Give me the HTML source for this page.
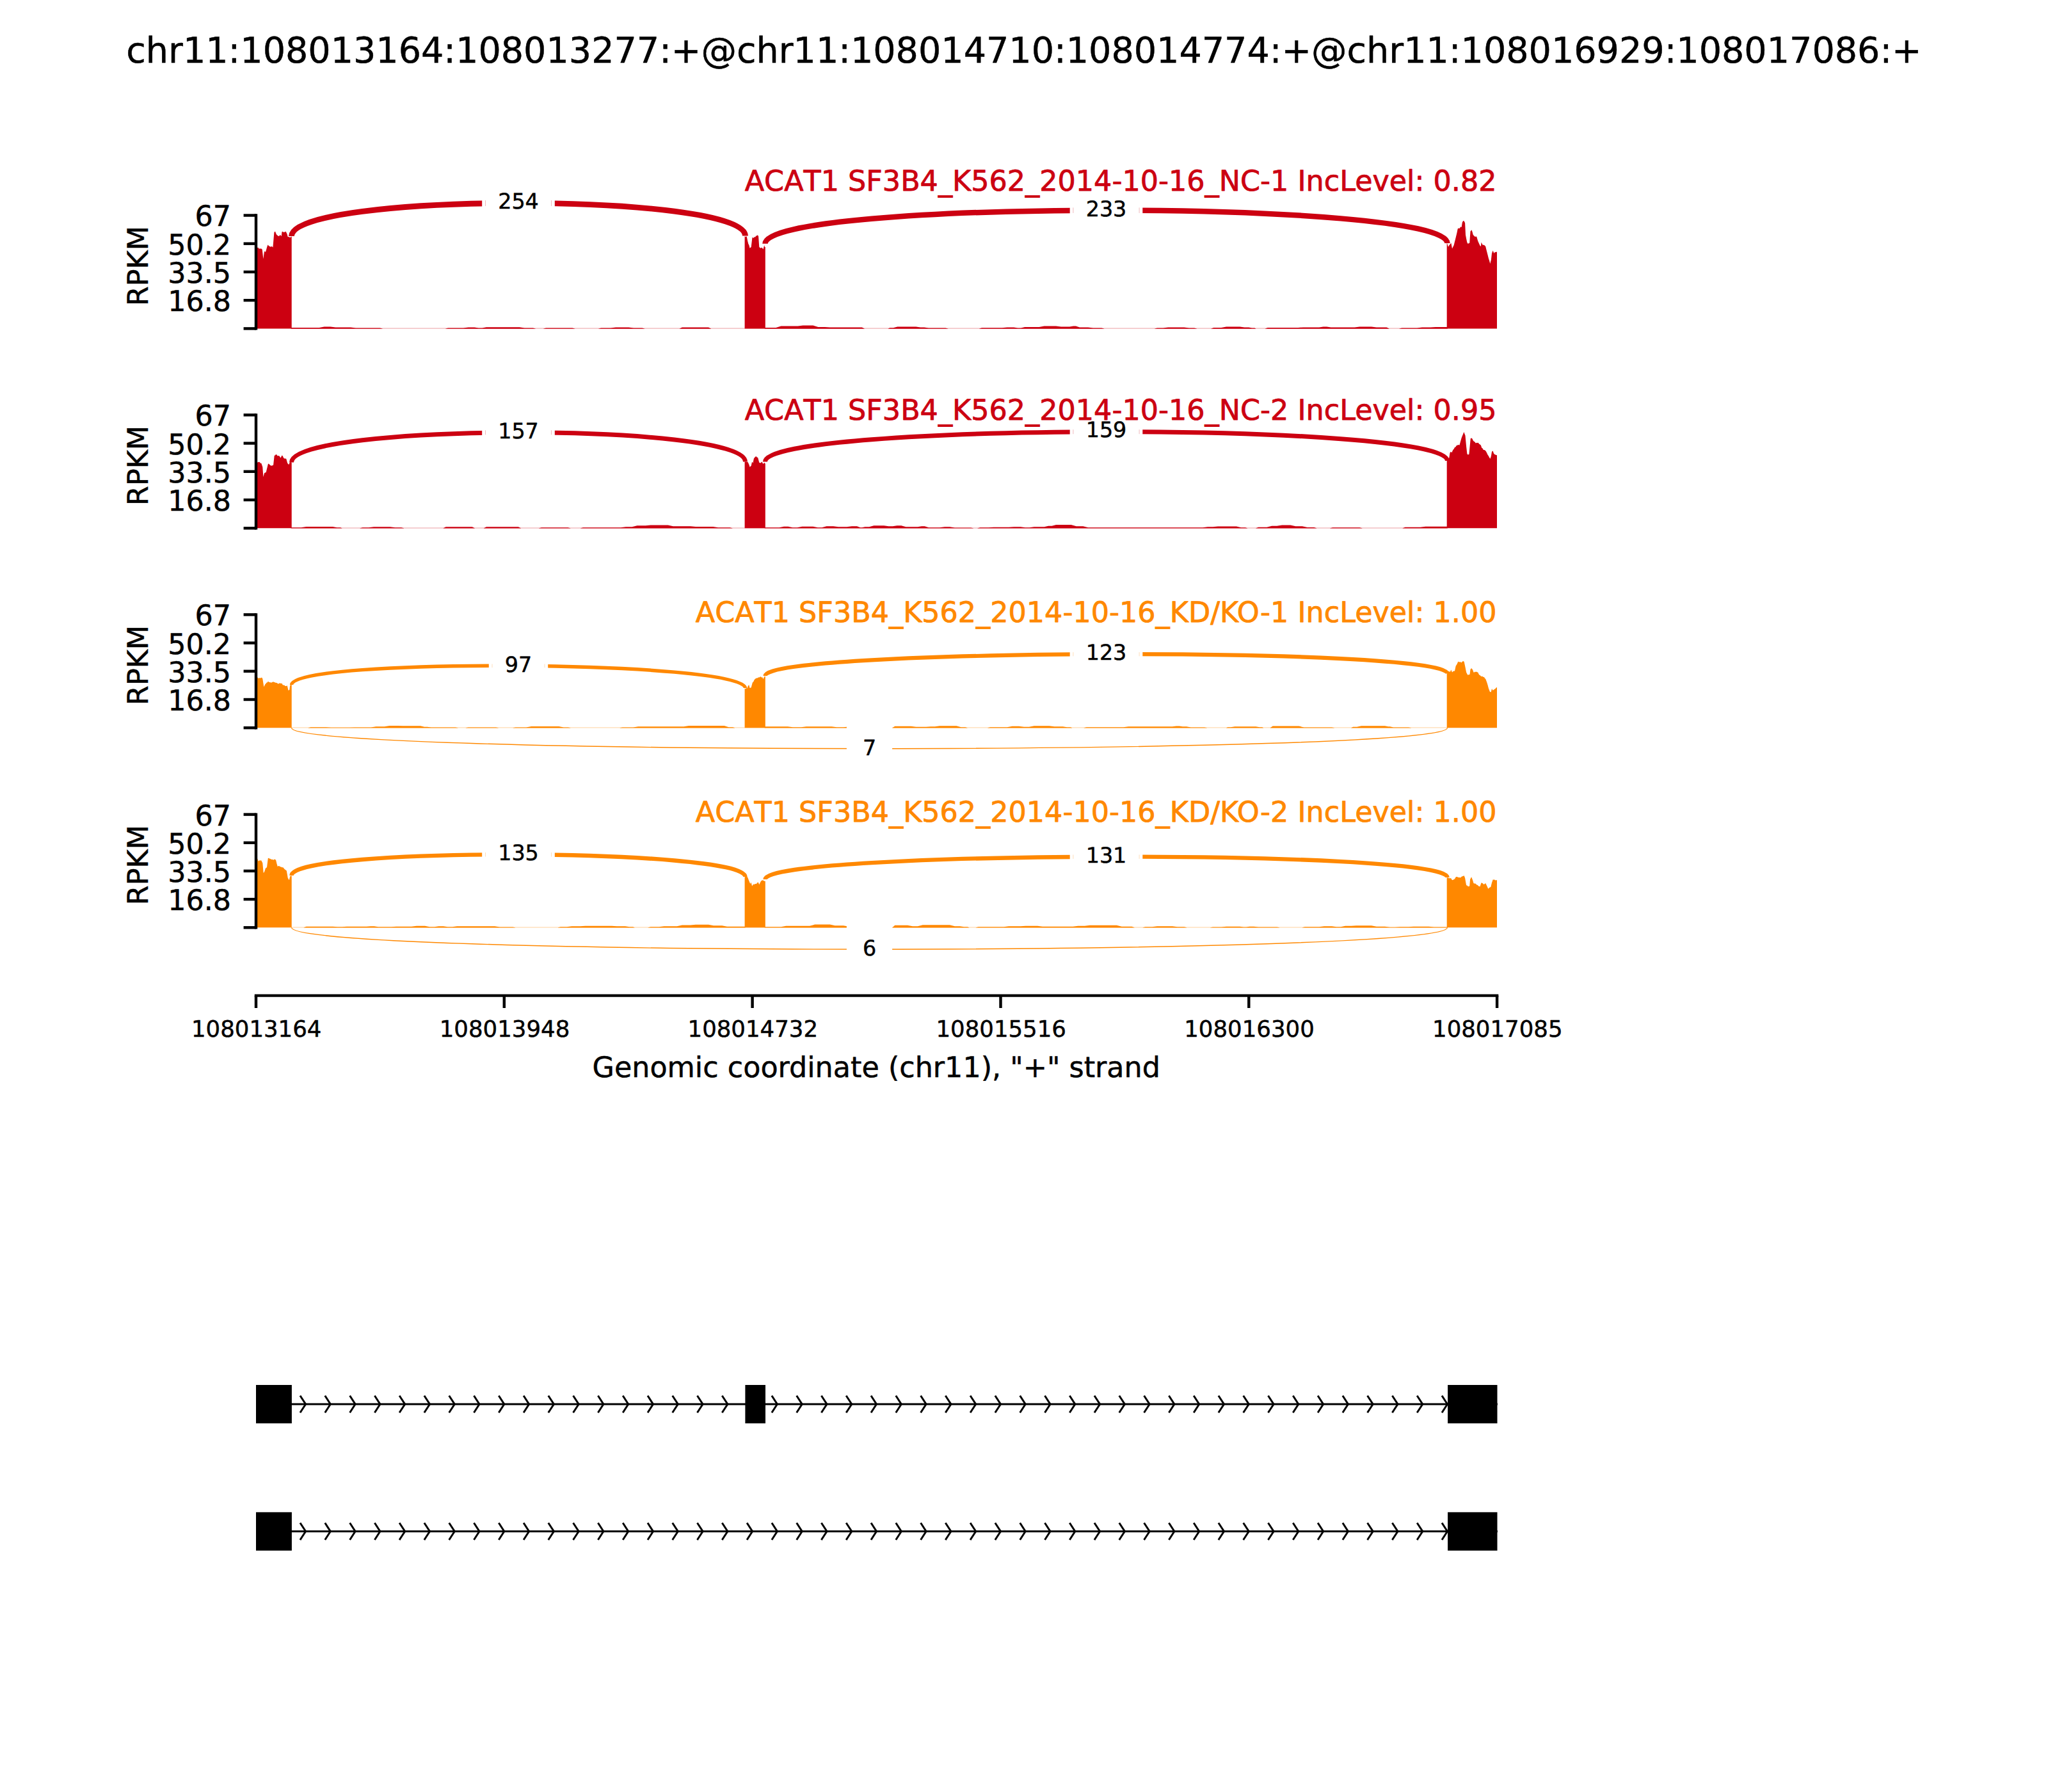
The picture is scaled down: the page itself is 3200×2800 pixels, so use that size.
<!DOCTYPE html>
<html lang="en"><head><meta charset="utf-8"><title>Sashimi plot</title>
<style>html,body{margin:0;padding:0;background:#fff}body{width:3200px;height:2800px;overflow:hidden}svg{display:block}</style></head>
<body>
<svg width="3200" height="2800" viewBox="0 0 3200 2800" font-family='"DejaVu Sans", "Liberation Sans", sans-serif' text-rendering="geometricPrecision">
<style>text{stroke-width:0.5px;paint-order:stroke;stroke-linejoin:round}.sl{stroke-width:0.8px}.k{font-kerning:none}</style>
<rect width="3200" height="2800" fill="#fff"/>
<text x="1600" y="98.3" font-size="55.556" text-anchor="middle" fill="#000" stroke="#000">chr11:108013164:108013277:+@chr11:108014710:108014774:+@chr11:108016929:108017086:+</text>
<g id="panel1">
<rect x="455.7" y="512.5" width="1805" height="1.2" fill="#CC0011" opacity="0.32"/>
<path d="M454.7 513.7L454.7 511.9L468.1 511.9L498.7 511.9L506.7 510.6L516.3 510.6L524.3 511.6L548 511.6L556 512.6L593.7 512.6L597.7 513.4L597.7 513.7ZM696.1 513.7L696.1 513.4L700.1 512.6L723.8 512.6L731.8 511.6L741.4 511.6L748 512.5L753.3 512.5L759.9 511.2L811.7 511.2L819.7 512.5L832.8 512.5L836.8 513.4L836.8 513.7ZM849.1 513.7L849.1 513.4L853.1 512.5L894.3 512.5L898.3 513.4L898.3 513.7ZM935.2 513.7L935.2 513.4L939.2 512.5L954.1 512.5L962.1 511.6L982.2 511.6L990.2 512.5L1003.3 512.5L1007.3 513.4L1007.3 513.7ZM1061.8 513.7L1061.8 513.4L1065.8 511.6L1107 511.6L1111 513.4L1111 513.7ZM1194.8 513.7L1194.8 511.9L1199.3 511.9L1212.4 511.9L1220.4 509.4L1246.6 509.4L1254.6 508.6L1270.4 508.6L1278.4 510.9L1288.8 510.9L1296.8 511.4L1346.8 511.4L1350.8 513.4L1350.8 513.7ZM1387.7 513.7L1387.7 513.4L1390.4 512.2L1395.6 512.2L1402.3 510.4L1431.2 510.4L1438.2 511.4L1444.1 511.4L1451.1 512.4L1477.3 512.4L1481.3 513.4L1481.3 513.7ZM1530.1 513.7L1530.1 513.4L1534.1 512.2L1565.6 512.2L1573.6 511.4L1584.1 511.4L1590.4 512.4L1595 512.4L1601.3 510.9L1623.6 510.9L1631.6 509.4L1650 509.4L1658 510.4L1671.1 510.4L1677.1 509.4L1681 509.4L1687 511.4L1700.1 511.4L1708.1 512.4L1721.2 512.4L1725.2 513.4L1725.2 513.7ZM1804.1 513.7L1804.1 513.4L1808.1 512.4L1817.2 512.4L1825.2 511.4L1850.2 511.4L1858.1 512.4L1866 512.4L1870 513.4L1870 513.7ZM1892.4 513.7L1892.4 513.4L1896.4 511.9L1908.2 511.9L1916.2 510.4L1937.2 510.4L1944.5 511.4L1951.1 511.4L1956.3 512.4L1960.3 512.4L1962.3 513.4L1962.3 513.7ZM1976.8 513.7L1976.8 513.4L1980.8 511.9L2028.1 511.9L2036.1 511.4L2061.1 511.4L2067.7 510.4L2073 510.4L2079.6 511.4L2116.5 511.4L2124.5 510.4L2142.8 510.4L2150.8 511.4L2166.6 511.4L2170.6 513.4L2170.6 513.7ZM2186.4 513.7L2186.4 513.4L2190.4 512.4L2214 512.4L2222 511.4L2235.1 511.4L2243.1 510.9L2256.2 510.9L2261.7 510.9L2261.7 513.7Z" fill="#CC0011"/>
<path d="M400 513.4L400 387.1L402.3 387.1L403.5 386.7L404.6 388.4L405.8 388.6L407 388.4L408.3 388.6L409.7 389.8L411.4 404.5L413 392.4L415 393.8L416.1 390L417.2 386.1L418.4 382.4L420.4 384.4L421.6 385.1L422.8 385.7L424 384.9L425.2 385.2L426.4 386.4L428.4 363L430 361.4L431.2 364.8L432.4 367L433.8 367.9L435.1 369L436.5 368.5L437.8 367L439.8 369L440.5 362.3L441.8 361.7L443.1 363L444.3 362.4L445.4 362.5L446.5 361.6L448.5 365.6L449.8 370.3L451.2 370L452.5 370.7L453.7 371L454.9 369.7L455.7 369.7L455.7 513.4 Z" fill="#CC0011"/>
<path d="M1163.6 513.4L1163.6 369.3L1163.6 369.3L1165.2 370.1L1166.7 369.3L1168.1 376.3L1169.3 380.9L1170.4 383.1L1171.6 387.7L1173.7 386L1175.5 370.7L1177.2 372.1L1178.6 370.2L1180 370.4L1181.4 368.6L1182.6 368.3L1183.9 367.2L1185.1 369.3L1186.3 386L1188.3 387.7L1190.4 386.7L1192.5 389.5L1194.2 383.2L1195 386L1195.8 386L1195.8 513.4 Z" fill="#CC0011"/>
<path d="M2260.7 513.4L2260.7 380.1L2261 380.1L2263 385.7L2264.3 383.3L2265.6 381.7L2267.4 379.7L2269 388.4L2270.3 385.8L2271.7 383.1L2272.8 378.4L2273.9 374.3L2275 369.7L2276.4 363.9L2277.7 357.6L2279 356.5L2280.4 356.9L2282.4 354.3L2283.7 354.9L2284.8 347.6L2286.1 345.3L2287.3 344.9L2289.1 348.2L2290 367L2291.2 373.6L2292.4 379L2293.8 381L2295 379.9L2296.2 379.7L2297.5 361.6L2299.4 359.2L2300.6 362.6L2301.8 367L2303.8 369L2304.9 370.1L2306.1 369.4L2307.2 369.7L2309.2 376.4L2311.2 381L2312.5 383.7L2313.9 385.1L2314.5 378.4L2316.5 382.4L2317.9 382.7L2319.2 383.1L2321.2 385.1L2322.6 390.7L2323.9 395.8L2325.9 403.8L2327.1 407.2L2328.3 411.9L2329.9 405.8L2331 395.8L2332.6 391.4L2334.4 395.8L2336 393.8L2337.3 393.9L2338.6 393.5L2339 393.5L2339 513.4 Z" fill="#CC0011"/>
<path d="M455.5 369 C455.5 300.5 1164.5 300.1 1164.5 368.6" fill="none" stroke="#CC0011" stroke-width="8.85"/>
<path d="M1195.5 380.7 C1195.5 311.7 2261.5 311.1 2261.5 380.1" fill="none" stroke="#CC0011" stroke-width="8.48"/>
<rect x="753.2" y="275.9" width="113.6" height="83.2" fill="#fff"/>
<rect x="758" y="313" width="0.8" height="8.9" fill="#CC0011" opacity="0.35"/>
<rect x="861.2" y="313" width="0.8" height="8.9" fill="#CC0011" opacity="0.35"/>
<text x="810" y="326.2" font-size="33.333" text-anchor="middle" fill="#000" stroke="#000">254</text>
<rect x="1671.7" y="287.4" width="113.6" height="83.2" fill="#fff"/>
<rect x="1676.5" y="324.4" width="0.8" height="8.5" fill="#CC0011" opacity="0.35"/>
<rect x="1779.7" y="324.4" width="0.8" height="8.5" fill="#CC0011" opacity="0.35"/>
<text x="1728.5" y="337.7" font-size="33.333" text-anchor="middle" fill="#000" stroke="#000">233</text>
<path d="M400 336.5 V513.4" stroke="#000" stroke-width="4.44" fill="none" stroke-linecap="square"/>
<path d="M380.6 336.5 H400" stroke="#000" stroke-width="4.44" fill="none"/>
<text x="361.1" y="353.4" font-size="44.444" text-anchor="end" fill="#000" stroke="#000">67</text>
<path d="M380.6 380.7 H400" stroke="#000" stroke-width="4.44" fill="none"/>
<text x="361.1" y="397.6" font-size="44.444" text-anchor="end" fill="#000" stroke="#000">50.2</text>
<path d="M380.6 424.9 H400" stroke="#000" stroke-width="4.44" fill="none"/>
<text x="361.1" y="441.8" font-size="44.444" text-anchor="end" fill="#000" stroke="#000">33.5</text>
<path d="M380.6 469.2 H400" stroke="#000" stroke-width="4.44" fill="none"/>
<text x="361.1" y="486.1" font-size="44.444" text-anchor="end" fill="#000" stroke="#000">16.8</text>
<path d="M380.6 513.4 H400" stroke="#000" stroke-width="4.44" fill="none"/>
<text transform="translate(230.9 415.5) rotate(-90)" font-size="44.444" text-anchor="middle" fill="#000" stroke="#000">RPKM</text>
<text class="sl" x="2338.5" y="298" font-size="44.444" text-anchor="end" fill="#CC0011" stroke="#CC0011"><tspan class="k">ACAT1 </tspan>SF3B4_K562_2014-10-16_NC-1 IncLevel: 0.82</text>
</g>
<g id="panel2">
<rect x="455.7" y="824.4" width="1805" height="1.2" fill="#CC0011" opacity="0.32"/>
<path d="M454.7 825.6L454.7 824.3L461 824.3L470.6 824.3L478.6 823L519.8 823L526.5 824.3L531.8 824.3L534.4 825.3L534.4 825.6ZM562.5 825.6L562.5 825.3L566.5 824.3L576.1 824.3L584.1 823.3L609.5 823.3L617.5 824.3L627.1 824.3L631.1 825.3L631.1 825.6ZM692.6 825.6L692.6 825.3L696.6 823.3L737.8 823.3L741.8 825.3L741.8 825.6ZM755.9 825.6L755.9 825.3L759.9 823.3L809.9 823.3L813.9 825.3L813.9 825.6ZM842.1 825.6L842.1 825.3L846.1 824.3L887.3 824.3L891.3 825.3L891.3 825.6ZM907.1 825.6L907.1 825.3L911.1 824.3L969.9 824.3L977.9 823.3L987.5 823.3L995.5 821.3L1008.6 821.3L1016.6 820.5L1043.7 820.5L1051.7 822.3L1078.9 822.3L1086.9 823.1L1114.1 823.1L1122.1 824.3L1140.4 824.3L1144.4 825.3L1144.4 825.6ZM1194.8 825.6L1194.8 824.3L1199.3 824.3L1217.6 824.3L1224.9 822.8L1231.5 822.8L1238.4 824.3L1245.7 824.3L1253.3 822.8L1270.4 822.8L1277.7 824.3L1284.3 824.3L1291.5 822.3L1302 822.3L1310 823.3L1323.1 823.3L1331 822.3L1339 822.3L1344.2 824.3L1346.9 824.3L1351.5 823.3L1358.1 823.3L1365.4 821.3L1381.1 821.3L1388.4 822.3L1395 822.3L1401.6 821.3L1408.2 821.3L1415.5 823.3L1433.8 823.3L1440.1 822.3L1444.7 822.3L1451.1 824.3L1468.1 824.3L1476.1 823.3L1484 823.3L1491.9 824.5L1516.9 824.5L1520.9 825.3L1520.9 825.6ZM1527.5 825.6L1527.5 825.3L1531.5 824.3L1544.6 824.3L1552.6 823.8L1576.2 823.8L1584.2 823.3L1594.6 823.3L1601.9 824.3L1608.5 824.3L1615.8 823.3L1631.6 823.3L1638.2 821.8L1643.5 821.8L1650.1 820L1673.7 820L1681.7 822.3L1692.2 822.3L1700.2 824.3L1721.2 824.3L1729.2 824.3L1879.2 824.3L1887.1 823.3L1895.1 823.3L1903 822.5L1931.9 822.5L1939.2 824.3L1945.8 824.3L1949.1 825.3L1949.1 825.6ZM1962.3 825.6L1962.3 825.3L1966.3 823.8L1979.4 823.8L1987.3 821.8L1995.2 821.8L2003.2 820.6L2016.3 820.6L2024.3 822.3L2034.7 822.3L2042.7 824.1L2053.2 824.1L2057.2 825.3L2057.2 825.6ZM2078.3 825.6L2078.3 825.3L2082.3 824.3L2124.4 824.3L2128.4 825.3L2128.4 825.6ZM2191.6 825.6L2191.6 825.3L2195.6 823.8L2219.3 823.8L2227.3 822.8L2256.2 822.8L2261.7 822.8L2261.7 825.6Z" fill="#CC0011"/>
<path d="M400 825.3L400 722.5L402.3 722.5L403.6 722.1L405 721.8L406.1 722.6L407.2 723.9L408.3 723.8L410.3 729.8L411.4 745.3L413 739.2L414.3 738.5L415.7 737.9L416.8 733.4L417.9 729.1L419 724.5L420.4 724.9L421.7 726.5L423.7 727.8L424.8 727.4L426 727.2L427.1 726.5L428.7 711.8L429.9 711.4L431.1 710L432.4 710.5L433.8 712.4L435.1 712.1L436.5 712.4L438.5 715.4L440.5 711.4L441.8 712.6L443.1 715.4L444.5 716.4L445.8 716.6L447.2 716.7L449.2 723.8L451.2 726.1L453.2 721.8L454.9 722.5L455.7 722.5L455.7 825.3 Z" fill="#CC0011"/>
<path d="M1163.6 825.3L1163.6 721.4L1163.6 721.4L1164.7 721.3L1165.9 721.7L1167 721.7L1168.1 721.4L1169.3 723.5L1170.4 726.1L1171.6 729.7L1173.7 727.7L1175.1 721.4L1176.5 723.5L1177.9 716.5L1179 715.1L1180.2 713.8L1181.4 713L1182.8 714.6L1184.2 715.1L1186.3 722.8L1188.3 723.5L1190.4 721.4L1192.5 724.9L1194.2 722.8L1195.3 724.2L1195.8 724.2L1195.8 825.3 Z" fill="#CC0011"/>
<path d="M2260.7 825.3L2260.7 719.9L2261 719.9L2262.1 717.9L2263.2 717.1L2264.3 715.2L2265.6 707.2L2267 705.8L2268.3 707.2L2270.3 703.1L2271.7 701.5L2273 699.1L2274.3 698.6L2275.7 696.3L2277 695.8L2278.1 695.3L2279.3 695.1L2280.4 695.8L2282.4 688.4L2283.7 683.9L2285.1 680.4L2286.2 678.1L2287.3 675L2289.5 680.4L2291.1 697.8L2292.4 709.2L2293.8 710.5L2295.4 709.8L2296.7 696.5L2297.8 685.1L2299.4 684.4L2300.6 685.7L2301.8 688.4L2303.1 689.8L2304.5 690.6L2305.8 692.4L2307.2 691.8L2308.5 691.9L2309.8 691.8L2311.2 693.7L2312.5 694.6L2313.9 695.8L2315.2 699.8L2316.5 700.6L2317.9 703.1L2319.2 703.1L2320.6 703.8L2321.9 705.2L2323.2 707.8L2324.6 710.8L2325.9 712.5L2327.3 715.2L2328.6 716.8L2329.9 712.5L2331 705.8L2332.6 704.5L2334 708.5L2335.3 710.1L2336.6 710.5L2338.6 711.2L2339 711.2L2339 825.3 Z" fill="#CC0011"/>
<path d="M455.5 722.5 C455.5 661 1164.5 659.9 1164.5 721.4" fill="none" stroke="#CC0011" stroke-width="6.96"/>
<path d="M1195.5 721.4 C1195.5 660.1 2261.5 658.6 2261.5 719.9" fill="none" stroke="#CC0011" stroke-width="7.01"/>
<rect x="753.2" y="634.9" width="113.6" height="83.2" fill="#fff"/>
<rect x="758" y="672.3" width="0.8" height="7" fill="#CC0011" opacity="0.35"/>
<rect x="861.2" y="672.3" width="0.8" height="7" fill="#CC0011" opacity="0.35"/>
<text x="810" y="685.2" font-size="33.333" text-anchor="middle" fill="#000" stroke="#000">157</text>
<rect x="1671.7" y="633.1" width="113.6" height="83.2" fill="#fff"/>
<rect x="1676.5" y="671.2" width="0.8" height="7" fill="#CC0011" opacity="0.35"/>
<rect x="1779.7" y="671.2" width="0.8" height="7" fill="#CC0011" opacity="0.35"/>
<text x="1728.5" y="683.4" font-size="33.333" text-anchor="middle" fill="#000" stroke="#000">159</text>
<path d="M400 648.4 V825.3" stroke="#000" stroke-width="4.44" fill="none" stroke-linecap="square"/>
<path d="M380.6 648.4 H400" stroke="#000" stroke-width="4.44" fill="none"/>
<text x="361.1" y="665.3" font-size="44.444" text-anchor="end" fill="#000" stroke="#000">67</text>
<path d="M380.6 692.6 H400" stroke="#000" stroke-width="4.44" fill="none"/>
<text x="361.1" y="709.5" font-size="44.444" text-anchor="end" fill="#000" stroke="#000">50.2</text>
<path d="M380.6 736.8 H400" stroke="#000" stroke-width="4.44" fill="none"/>
<text x="361.1" y="753.7" font-size="44.444" text-anchor="end" fill="#000" stroke="#000">33.5</text>
<path d="M380.6 781.1 H400" stroke="#000" stroke-width="4.44" fill="none"/>
<text x="361.1" y="798" font-size="44.444" text-anchor="end" fill="#000" stroke="#000">16.8</text>
<path d="M380.6 825.3 H400" stroke="#000" stroke-width="4.44" fill="none"/>
<text transform="translate(230.9 727.4) rotate(-90)" font-size="44.444" text-anchor="middle" fill="#000" stroke="#000">RPKM</text>
<text class="sl" x="2338.5" y="655.8" font-size="44.444" text-anchor="end" fill="#CC0011" stroke="#CC0011"><tspan class="k">ACAT1 </tspan>SF3B4_K562_2014-10-16_NC-2 IncLevel: 0.95</text>
</g>
<g id="panel3">
<rect x="455.7" y="1136.3" width="1805" height="1.2" fill="#FF8800" opacity="0.32"/>
<path d="M481.6 1137.5L481.6 1137.2L485.6 1136.2L509.3 1136.2L517.3 1136.8L546.2 1136.8L554.2 1136.4L579.6 1136.4L587.6 1135.2L600.7 1135.2L608.7 1134L621.8 1134L629.8 1134.2L657 1134.2L663.2 1135.7L667.6 1135.7L673.8 1136.4L711.5 1136.4L715.5 1137.2L715.5 1137.5ZM727.8 1137.5L727.8 1137.2L731.8 1136.4L774.8 1136.4L778.8 1137.2L778.8 1137.5ZM801.6 1137.5L801.6 1137.2L805.6 1136.4L822.2 1136.4L830.2 1135L873.2 1135L880.7 1136.4L887.8 1136.4L891.3 1137.2L891.3 1137.5ZM968.6 1137.5L968.6 1137.2L972.6 1136.4L989.2 1136.4L997.2 1135.2L1068.4 1135.2L1076.4 1133.9L1100 1133.9L1108 1133.9L1131.7 1133.9L1138.7 1136.2L1144.9 1136.2L1148 1137.2L1148 1137.5ZM1194.8 1137.5L1194.8 1135.2L1199.3 1135.2L1230.8 1135.2L1238.8 1136.2L1251.9 1136.2L1259.9 1135.2L1299.4 1135.2L1307.4 1136.2L1317.8 1136.2L1323.5 1135.7L1326.8 1135.7L1328.4 1137.2L1328.4 1137.5ZM1394.3 1137.5L1394.3 1137.2L1398.3 1134.7L1423.3 1134.7L1431.3 1135.7L1447 1135.7L1454.3 1135.2L1460.9 1135.2L1468.2 1134.2L1494.5 1134.2L1501.8 1136.2L1508.3 1136.2L1511.6 1137.2L1511.6 1137.5ZM1543.3 1137.5L1543.3 1137.2L1547.3 1136.2L1573.6 1136.2L1581.6 1134.7L1592 1134.7L1600 1135.7L1607.9 1135.7L1615.8 1134.2L1639.5 1134.2L1647.5 1135.2L1660.6 1135.2L1667.2 1136.2L1672.5 1136.2L1675.1 1137.2L1675.1 1137.5ZM1693.6 1137.5L1693.6 1137.2L1697.6 1136.2L1721.2 1136.2L1729.2 1136.2L1755.3 1136.2L1763.3 1135.2L1831.7 1135.2L1838 1134.6L1842.7 1134.6L1847.9 1135.2L1853.9 1135.2L1860.8 1136.4L1881.8 1136.4L1885.8 1137.2L1885.8 1137.5ZM1916.1 1137.5L1916.1 1137.2L1918.4 1136.2L1923.1 1136.2L1929.4 1135.2L1962.2 1135.2L1968.2 1136.2L1972.2 1136.2L1974.1 1137.2L1974.1 1137.5ZM1984.7 1137.5L1984.7 1137.2L1988.7 1134.6L2029.5 1134.6L2037.5 1136.4L2080.9 1136.4L2084.9 1137.2L2084.9 1137.5ZM2111.2 1137.5L2111.2 1137.2L2114.2 1135.7L2120.1 1135.7L2127.1 1134.2L2163.9 1134.2L2169.2 1135.2L2171.9 1135.2L2177.2 1136.4L2200.8 1136.4L2204.8 1137.2L2204.8 1137.5Z" fill="#FF8800"/>
<path d="M400 1137.2L400 1058.6L402.3 1058.6L404.3 1059.9L405.5 1059L406.6 1059.6L407.8 1059.2L409 1058.6L410.3 1060.6L412.3 1073.3L414.3 1069.3L415.5 1068.1L416.7 1066.5L417.9 1066.3L419 1064.6L420.4 1065.9L421.7 1066L423.1 1066.6L424.4 1066.5L425.7 1065.8L427.1 1065.2L428.4 1066L429.8 1066.2L431.1 1067.1L432.4 1066.7L433.8 1068L435.1 1068.5L436.5 1067.5L437.8 1067.5L439.1 1068L440.5 1067.8L441.8 1070.2L443.1 1070.4L444.5 1070.7L445.8 1072L447.2 1072L448.8 1071.3L450.5 1078.7L452.3 1078L453.2 1070.7L454.9 1070L455.7 1070L455.7 1137.2 Z" fill="#FF8800"/>
<path d="M1163.6 1137.2L1163.6 1075.6L1163.6 1075.6L1164.9 1076.4L1166.1 1074.9L1167.4 1075.6L1168.8 1071.9L1170.2 1070L1171.6 1074.9L1173.7 1074.2L1175.8 1066.5L1177.2 1065.3L1178.6 1062.3L1180 1060.8L1181.4 1059.8L1182.8 1059.5L1184 1059.3L1185.2 1058.2L1186.4 1058.6L1187.7 1057.4L1188.8 1057.2L1190 1058.7L1191.1 1058.1L1192.5 1060.9L1194.6 1056.7L1195.8 1056.7L1195.8 1137.2 Z" fill="#FF8800"/>
<path d="M2260.7 1137.2L2260.7 1052.6L2261 1052.6L2262.3 1051.4L2263.6 1048.6L2265.6 1049.9L2267.4 1046.6L2269 1050.6L2271 1048.6L2273 1048.6L2274.7 1040.6L2276.4 1037.9L2278.4 1033.6L2279.5 1034.5L2280.6 1034.5L2281.7 1033.9L2283.1 1035.5L2285.1 1033.6L2286.4 1033L2287.7 1033.9L2289.1 1040.6L2291.1 1050.6L2293.1 1054.6L2294.2 1054.6L2295.3 1054L2296.5 1054L2297.5 1045.9L2299.1 1043.9L2301.1 1046.6L2302.5 1050.6L2303.6 1050.4L2304.7 1049.5L2305.8 1049.9L2306.9 1049.6L2308.1 1050.3L2309.2 1050.6L2311.2 1054.6L2312.5 1055.1L2313.9 1056.6L2315.2 1057L2316.5 1056.7L2317.9 1058L2319 1058.1L2320.1 1060.1L2321.2 1060.7L2323.2 1066L2324.6 1070.6L2325.9 1075.4L2327.9 1080.8L2329.7 1081.4L2331 1076.1L2332.6 1078.7L2334 1077.8L2335.3 1076.7L2336.4 1076.3L2337.5 1074.7L2338.6 1074.1L2339 1074.1L2339 1137.2 Z" fill="#FF8800"/>
<path d="M455.5 1070 C455.5 1027 1164.5 1032.1 1164.5 1075.1" fill="none" stroke="#FF8800" stroke-width="5.47"/>
<path d="M1195.5 1056 C1195.5 1013.2 2261.5 1009.8 2261.5 1052.6" fill="none" stroke="#FF8800" stroke-width="6.16"/>
<path d="M455.5 1137.2 C455.5 1180.5 2261.5 1180.5 2261.5 1137.2" fill="none" stroke="#FF8800" stroke-width="1.47"/>
<rect x="763.8" y="1000.1" width="92.4" height="83.2" fill="#fff"/>
<rect x="768.6" y="1037.6" width="0.8" height="5.5" fill="#FF8800" opacity="0.35"/>
<rect x="850.6" y="1037.6" width="0.8" height="5.5" fill="#FF8800" opacity="0.35"/>
<text x="810" y="1050.4" font-size="33.333" text-anchor="middle" fill="#000" stroke="#000">97</text>
<rect x="1671.7" y="981.1" width="113.6" height="83.2" fill="#fff"/>
<rect x="1676.5" y="1019.1" width="0.8" height="6.2" fill="#FF8800" opacity="0.35"/>
<rect x="1779.7" y="1019.1" width="0.8" height="6.2" fill="#FF8800" opacity="0.35"/>
<text x="1728.5" y="1031.4" font-size="33.333" text-anchor="middle" fill="#000" stroke="#000">123</text>
<rect x="1322.9" y="1129.4" width="71.2" height="83.2" fill="#fff"/>
<text x="1358.5" y="1179.7" font-size="33.333" text-anchor="middle" fill="#000" stroke="#000">7</text>
<path d="M400 960.4 V1137.2" stroke="#000" stroke-width="4.44" fill="none" stroke-linecap="square"/>
<path d="M380.6 960.4 H400" stroke="#000" stroke-width="4.44" fill="none"/>
<text x="361.1" y="977.3" font-size="44.444" text-anchor="end" fill="#000" stroke="#000">67</text>
<path d="M380.6 1004.6 H400" stroke="#000" stroke-width="4.44" fill="none"/>
<text x="361.1" y="1021.5" font-size="44.444" text-anchor="end" fill="#000" stroke="#000">50.2</text>
<path d="M380.6 1048.8 H400" stroke="#000" stroke-width="4.44" fill="none"/>
<text x="361.1" y="1065.7" font-size="44.444" text-anchor="end" fill="#000" stroke="#000">33.5</text>
<path d="M380.6 1093 H400" stroke="#000" stroke-width="4.44" fill="none"/>
<text x="361.1" y="1109.9" font-size="44.444" text-anchor="end" fill="#000" stroke="#000">16.8</text>
<path d="M380.6 1137.2 H400" stroke="#000" stroke-width="4.44" fill="none"/>
<text transform="translate(230.9 1039.4) rotate(-90)" font-size="44.444" text-anchor="middle" fill="#000" stroke="#000">RPKM</text>
<text class="sl" x="2338.5" y="972" font-size="44.444" text-anchor="end" fill="#FF8800" stroke="#FF8800"><tspan class="k">ACAT1 </tspan>SF3B4_K562_2014-10-16_KD/KO-1 IncLevel: 1.00</text>
</g>
<g id="panel4">
<rect x="455.7" y="1448.4" width="1805" height="1.2" fill="#FF8800" opacity="0.32"/>
<path d="M474.6 1449.6L474.6 1449.3L478.6 1447.8L519.8 1447.8L527.4 1448.3L534.4 1448.3L541.9 1447.8L572.6 1447.8L579.2 1447.3L584.5 1447.3L591.1 1448.3L611.3 1448.3L619.3 1447.8L642.9 1447.8L650.9 1446.8L664 1446.8L671.5 1448.3L678.6 1448.3L685.6 1447.3L692.6 1447.3L699.6 1448.3L706.7 1448.3L714.2 1447.3L773 1447.3L781 1448.5L801.1 1448.5L805.1 1449.3L805.1 1449.6ZM871.9 1449.6L871.9 1449.3L875.9 1448.3L885.5 1448.3L893.5 1447.3L906.6 1447.3L914.6 1446.8L955.8 1446.8L963.8 1447.3L976.9 1447.3L983.6 1448.3L988.9 1448.3L991.5 1449.3L991.5 1449.6ZM1012.6 1449.6L1012.6 1449.3L1016.6 1448.3L1029.7 1448.3L1037.7 1447.3L1057.8 1447.3L1065.8 1445.5L1078.9 1445.5L1086.9 1444.8L1107 1444.8L1115 1446.3L1128.1 1446.3L1136.1 1447.8L1159.8 1447.8L1164.6 1447.8L1164.6 1449.6ZM1194.8 1449.6L1194.8 1448.3L1199.3 1448.3L1220.3 1448.3L1228.3 1446.8L1265.1 1446.8L1273.1 1444.6L1296.7 1444.6L1304.7 1446.3L1317.8 1446.3L1323.5 1447.3L1326.8 1447.3L1328.4 1449.3L1328.4 1449.6ZM1394.3 1449.6L1394.3 1449.3L1398.3 1445.8L1418 1445.8L1426 1447.3L1433.9 1447.3L1441.8 1445.3L1483.9 1445.3L1491.9 1447.3L1499.8 1447.3L1506.4 1448.3L1511.6 1448.3L1514.3 1449.3L1514.3 1449.6ZM1524.8 1449.6L1524.8 1449.3L1528.8 1448.3L1568.3 1448.3L1576.3 1447.3L1594.6 1447.3L1602.6 1446.8L1621 1446.8L1629 1447.8L1676.4 1447.8L1684.4 1446.8L1694.8 1446.8L1702.8 1445.8L1721.2 1445.8L1729.2 1445.8L1744.7 1445.8L1752.7 1447.8L1768.5 1447.8L1772.5 1449.3L1772.5 1449.6ZM1785.6 1449.6L1785.6 1449.3L1789.6 1448.3L1800.1 1448.3L1808.1 1447.3L1831.7 1447.3L1839.7 1448.3L1850.2 1448.3L1854.2 1449.3L1854.2 1449.6ZM1891.1 1449.6L1891.1 1449.3L1895.1 1448.5L1908.2 1448.5L1916.2 1447.8L1937.2 1447.8L1943.2 1448.5L1947.1 1448.5L1952.4 1447.8L1959 1447.8L1966.3 1448.5L1995.2 1448.5L1999.2 1449.3L1999.2 1449.6ZM2034.8 1449.6L2034.8 1449.3L2038.8 1448.3L2061.1 1448.3L2069.1 1447.3L2080.9 1447.3L2088.2 1448.3L2094.8 1448.3L2102.1 1446.8L2111.2 1446.8L2119.2 1446.3L2142.8 1446.3L2150.8 1447.8L2163.9 1447.8L2171.9 1448.7L2179.8 1448.7L2187.7 1448.3L2200.8 1448.3L2208.8 1447.8L2232.5 1447.8L2240.5 1448.5L2256.2 1448.5L2261.7 1448.5L2261.7 1449.6Z" fill="#FF8800"/>
<path d="M400 1449.3L400 1341.8L402.3 1341.8L403.6 1345.8L404.8 1344.6L406 1344.5L407.1 1344.6L408.3 1344.5L410.3 1348.5L411.7 1363.9L413 1362.6L415 1356.5L417 1355.2L418.8 1341.1L420.4 1340.7L421.5 1341.9L422.6 1341.7L423.7 1343.1L424.8 1342.7L426 1343.1L427.1 1343.8L429.1 1342.5L431.1 1343.8L432.4 1349.3L433.8 1353.9L435.1 1352.9L436.5 1353.2L437.8 1354.3L439.1 1354.5L440.5 1355.2L441.8 1355.2L442.9 1355.7L444 1357.5L445.2 1358.6L446.5 1359.5L447.8 1360.6L449.8 1371.9L451.9 1375.3L453.2 1369.3L454.9 1368.6L455.7 1368.6L455.7 1449.3 Z" fill="#FF8800"/>
<path d="M1163.6 1449.3L1163.6 1370.4L1163.6 1370.4L1164.7 1369.7L1165.9 1369.9L1167 1370.1L1168.1 1370.4L1170.2 1376L1172.3 1380.9L1173.7 1378.8L1175.1 1384.4L1177.2 1381.6L1178.6 1382.1L1180 1381.1L1181.4 1380.9L1182.5 1380.6L1183.7 1378.8L1184.9 1378.8L1186.3 1382.3L1188.3 1378.1L1189.7 1376L1191.8 1375.3L1193.2 1376L1194.6 1376.7L1195.8 1376.7L1195.8 1449.3 Z" fill="#FF8800"/>
<path d="M2260.7 1449.3L2260.7 1371.3L2261 1371.3L2262.1 1371.6L2263.2 1372L2264.3 1371.9L2265.6 1372.5L2267 1371.9L2269 1375.3L2271 1374.6L2273 1373.3L2275 1369.9L2276.4 1369.9L2277.7 1370.6L2279 1371.1L2280.4 1371L2281.5 1371.3L2282.6 1370.9L2283.7 1369.7L2285.7 1368.9L2287.7 1368.3L2289.1 1371.9L2291.1 1383.3L2292.4 1383.6L2293.8 1384.9L2295 1384.9L2296.2 1384.4L2297.1 1374L2299.1 1370.2L2301.1 1375.3L2302.5 1380L2303.6 1380.4L2304.7 1380.4L2305.8 1380.7L2307.2 1382.5L2308.5 1382.7L2310.5 1384.7L2312.5 1385.3L2314.5 1379.3L2316.5 1380L2318.6 1382L2319.9 1381L2321.2 1380L2323.2 1384L2325.3 1388.7L2327.3 1386.7L2329.3 1386L2331 1379.3L2332.6 1374.6L2334 1374.5L2335.3 1374.6L2336.4 1375.6L2337.5 1375.3L2338.6 1375.3L2339 1375.3L2339 1449.3 Z" fill="#FF8800"/>
<path d="M455.5 1367.9 C455.5 1323 1164.5 1325.1 1164.5 1370" fill="none" stroke="#FF8800" stroke-width="6.46"/>
<path d="M1195.5 1373.9 C1195.5 1328.9 2261.5 1326 2261.5 1371" fill="none" stroke="#FF8800" stroke-width="6.36"/>
<path d="M455.5 1449.3 C455.5 1494.5 2261.5 1494.5 2261.5 1449.3" fill="none" stroke="#FF8800" stroke-width="1.36"/>
<rect x="753.2" y="1293.8" width="113.6" height="83.2" fill="#fff"/>
<rect x="758" y="1332" width="0.8" height="6.5" fill="#FF8800" opacity="0.35"/>
<rect x="861.2" y="1332" width="0.8" height="6.5" fill="#FF8800" opacity="0.35"/>
<text x="810" y="1344.1" font-size="33.333" text-anchor="middle" fill="#000" stroke="#000">135</text>
<rect x="1671.7" y="1298" width="113.6" height="83.2" fill="#fff"/>
<rect x="1676.5" y="1335.5" width="0.8" height="6.4" fill="#FF8800" opacity="0.35"/>
<rect x="1779.7" y="1335.5" width="0.8" height="6.4" fill="#FF8800" opacity="0.35"/>
<text x="1728.5" y="1348.3" font-size="33.333" text-anchor="middle" fill="#000" stroke="#000">131</text>
<rect x="1322.9" y="1443.1" width="71.2" height="83.2" fill="#fff"/>
<text x="1358.5" y="1493.4" font-size="33.333" text-anchor="middle" fill="#000" stroke="#000">6</text>
<path d="M400 1272.6 V1449.3" stroke="#000" stroke-width="4.44" fill="none" stroke-linecap="square"/>
<path d="M380.6 1272.6 H400" stroke="#000" stroke-width="4.44" fill="none"/>
<text x="361.1" y="1289.5" font-size="44.444" text-anchor="end" fill="#000" stroke="#000">67</text>
<path d="M380.6 1316.8 H400" stroke="#000" stroke-width="4.44" fill="none"/>
<text x="361.1" y="1333.7" font-size="44.444" text-anchor="end" fill="#000" stroke="#000">50.2</text>
<path d="M380.6 1360.9 H400" stroke="#000" stroke-width="4.44" fill="none"/>
<text x="361.1" y="1377.8" font-size="44.444" text-anchor="end" fill="#000" stroke="#000">33.5</text>
<path d="M380.6 1405.1 H400" stroke="#000" stroke-width="4.44" fill="none"/>
<text x="361.1" y="1422" font-size="44.444" text-anchor="end" fill="#000" stroke="#000">16.8</text>
<path d="M380.6 1449.3 H400" stroke="#000" stroke-width="4.44" fill="none"/>
<text transform="translate(230.9 1351.6) rotate(-90)" font-size="44.444" text-anchor="middle" fill="#000" stroke="#000">RPKM</text>
<text class="sl" x="2338.5" y="1283.9" font-size="44.444" text-anchor="end" fill="#FF8800" stroke="#FF8800"><tspan class="k">ACAT1 </tspan>SF3B4_K562_2014-10-16_KD/KO-2 IncLevel: 1.00</text>
</g>
<g id="xaxis">
<path d="M400 1555.6 H2339.1" stroke="#000" stroke-width="4.44" stroke-linecap="square" fill="none"/>
<path d="M400 1555.6 V1575" stroke="#000" stroke-width="4.44" fill="none"/>
<text x="400.7" y="1619.8" font-size="35.556" text-anchor="middle" fill="#000" stroke="#000">108013164</text>
<path d="M787.8 1555.6 V1575" stroke="#000" stroke-width="4.44" fill="none"/>
<text x="788.5" y="1619.8" font-size="35.556" text-anchor="middle" fill="#000" stroke="#000">108013948</text>
<path d="M1175.6 1555.6 V1575" stroke="#000" stroke-width="4.44" fill="none"/>
<text x="1176.3" y="1619.8" font-size="35.556" text-anchor="middle" fill="#000" stroke="#000">108014732</text>
<path d="M1563.5 1555.6 V1575" stroke="#000" stroke-width="4.44" fill="none"/>
<text x="1564.2" y="1619.8" font-size="35.556" text-anchor="middle" fill="#000" stroke="#000">108015516</text>
<path d="M1951.3 1555.6 V1575" stroke="#000" stroke-width="4.44" fill="none"/>
<text x="1952" y="1619.8" font-size="35.556" text-anchor="middle" fill="#000" stroke="#000">108016300</text>
<path d="M2339.1 1555.6 V1575" stroke="#000" stroke-width="4.44" fill="none"/>
<text x="2339.8" y="1619.8" font-size="35.556" text-anchor="middle" fill="#000" stroke="#000">108017085</text>
<text x="1369.2" y="1682.6" font-size="44.444" text-anchor="middle" fill="#000" stroke="#000">Genomic coordinate (chr11), &quot;+&quot; strand</text>
</g>
<g id="genes" stroke="#000" fill="#000">
<path d="M400 2194 H2339.9" stroke-width="3" fill="none"/>
<path d="M431 2182L438.8 2194L431 2206M469.8 2182L477.6 2194L469.8 2206M508.6 2182L516.3 2194L508.6 2206M547.4 2182L555.1 2194L547.4 2206M586.2 2182L593.9 2194L586.2 2206M624.9 2182L632.7 2194L624.9 2206M663.7 2182L671.5 2194L663.7 2206M702.5 2182L710.3 2194L702.5 2206M741.3 2182L749 2194L741.3 2206M780.1 2182L787.8 2194L780.1 2206M818.9 2182L826.6 2194L818.9 2206M857.6 2182L865.4 2194L857.6 2206M896.4 2182L904.2 2194L896.4 2206M935.2 2182L942.9 2194L935.2 2206M974 2182L981.7 2194L974 2206M1012.8 2182L1020.5 2194L1012.8 2206M1051.5 2182L1059.3 2194L1051.5 2206M1090.3 2182L1098.1 2194L1090.3 2206M1129.1 2182L1136.9 2194L1129.1 2206M1167.9 2182L1175.6 2194L1167.9 2206M1206.7 2182L1214.4 2194L1206.7 2206M1245.5 2182L1253.2 2194L1245.5 2206M1284.2 2182L1292 2194L1284.2 2206M1323 2182L1330.8 2194L1323 2206M1361.8 2182L1369.5 2194L1361.8 2206M1400.6 2182L1408.3 2194L1400.6 2206M1439.4 2182L1447.1 2194L1439.4 2206M1478.1 2182L1485.9 2194L1478.1 2206M1516.9 2182L1524.7 2194L1516.9 2206M1555.7 2182L1563.5 2194L1555.7 2206M1594.5 2182L1602.2 2194L1594.5 2206M1633.3 2182L1641 2194L1633.3 2206M1672.1 2182L1679.8 2194L1672.1 2206M1710.8 2182L1718.6 2194L1710.8 2206M1749.6 2182L1757.4 2194L1749.6 2206M1788.4 2182L1796.2 2194L1788.4 2206M1827.2 2182L1834.9 2194L1827.2 2206M1866 2182L1873.7 2194L1866 2206M1904.7 2182L1912.5 2194L1904.7 2206M1943.5 2182L1951.3 2194L1943.5 2206M1982.3 2182L1990.1 2194L1982.3 2206M2021.1 2182L2028.8 2194L2021.1 2206M2059.9 2182L2067.6 2194L2059.9 2206M2098.7 2182L2106.4 2194L2098.7 2206M2137.4 2182L2145.2 2194L2137.4 2206M2176.2 2182L2184 2194L2176.2 2206M2215 2182L2222.8 2194L2215 2206M2253.8 2182L2261.5 2194L2253.8 2206M2292.6 2182L2300.3 2194L2292.6 2206" stroke-width="3" fill="none" stroke-linecap="square" stroke-linejoin="miter"/>
<rect x="400" y="2164" width="55.9" height="60" stroke="none"/>
<rect x="1164.4" y="2164" width="31.6" height="60" stroke="none"/>
<rect x="2262.1" y="2164" width="77.4" height="60" stroke="none"/>
<path d="M400 2392.8 H2339.9" stroke-width="3" fill="none"/>
<path d="M431 2380.8L438.8 2392.8L431 2404.8M469.8 2380.8L477.6 2392.8L469.8 2404.8M508.6 2380.8L516.3 2392.8L508.6 2404.8M547.4 2380.8L555.1 2392.8L547.4 2404.8M586.2 2380.8L593.9 2392.8L586.2 2404.8M624.9 2380.8L632.7 2392.8L624.9 2404.8M663.7 2380.8L671.5 2392.8L663.7 2404.8M702.5 2380.8L710.3 2392.8L702.5 2404.8M741.3 2380.8L749 2392.8L741.3 2404.8M780.1 2380.8L787.8 2392.8L780.1 2404.8M818.9 2380.8L826.6 2392.8L818.9 2404.8M857.6 2380.8L865.4 2392.8L857.6 2404.8M896.4 2380.8L904.2 2392.8L896.4 2404.8M935.2 2380.8L942.9 2392.8L935.2 2404.8M974 2380.8L981.7 2392.8L974 2404.8M1012.8 2380.8L1020.5 2392.8L1012.8 2404.8M1051.5 2380.8L1059.3 2392.8L1051.5 2404.8M1090.3 2380.8L1098.1 2392.8L1090.3 2404.8M1129.1 2380.8L1136.9 2392.8L1129.1 2404.8M1167.9 2380.8L1175.6 2392.8L1167.9 2404.8M1206.7 2380.8L1214.4 2392.8L1206.7 2404.8M1245.5 2380.8L1253.2 2392.8L1245.5 2404.8M1284.2 2380.8L1292 2392.8L1284.2 2404.8M1323 2380.8L1330.8 2392.8L1323 2404.8M1361.8 2380.8L1369.5 2392.8L1361.8 2404.8M1400.6 2380.8L1408.3 2392.8L1400.6 2404.8M1439.4 2380.8L1447.1 2392.8L1439.4 2404.8M1478.1 2380.8L1485.9 2392.8L1478.1 2404.8M1516.9 2380.8L1524.7 2392.8L1516.9 2404.8M1555.7 2380.8L1563.5 2392.8L1555.7 2404.8M1594.5 2380.8L1602.2 2392.8L1594.5 2404.8M1633.3 2380.8L1641 2392.8L1633.3 2404.8M1672.1 2380.8L1679.8 2392.8L1672.1 2404.8M1710.8 2380.8L1718.6 2392.8L1710.8 2404.8M1749.6 2380.8L1757.4 2392.8L1749.6 2404.8M1788.4 2380.8L1796.2 2392.8L1788.4 2404.8M1827.2 2380.8L1834.9 2392.8L1827.2 2404.8M1866 2380.8L1873.7 2392.8L1866 2404.8M1904.7 2380.8L1912.5 2392.8L1904.7 2404.8M1943.5 2380.8L1951.3 2392.8L1943.5 2404.8M1982.3 2380.8L1990.1 2392.8L1982.3 2404.8M2021.1 2380.8L2028.8 2392.8L2021.1 2404.8M2059.9 2380.8L2067.6 2392.8L2059.9 2404.8M2098.7 2380.8L2106.4 2392.8L2098.7 2404.8M2137.4 2380.8L2145.2 2392.8L2137.4 2404.8M2176.2 2380.8L2184 2392.8L2176.2 2404.8M2215 2380.8L2222.8 2392.8L2215 2404.8M2253.8 2380.8L2261.5 2392.8L2253.8 2404.8M2292.6 2380.8L2300.3 2392.8L2292.6 2404.8" stroke-width="3" fill="none" stroke-linecap="square" stroke-linejoin="miter"/>
<rect x="400" y="2362.8" width="55.9" height="60" stroke="none"/>
<rect x="2262.1" y="2362.8" width="77.4" height="60" stroke="none"/>
</g>
</svg>
</body></html>
